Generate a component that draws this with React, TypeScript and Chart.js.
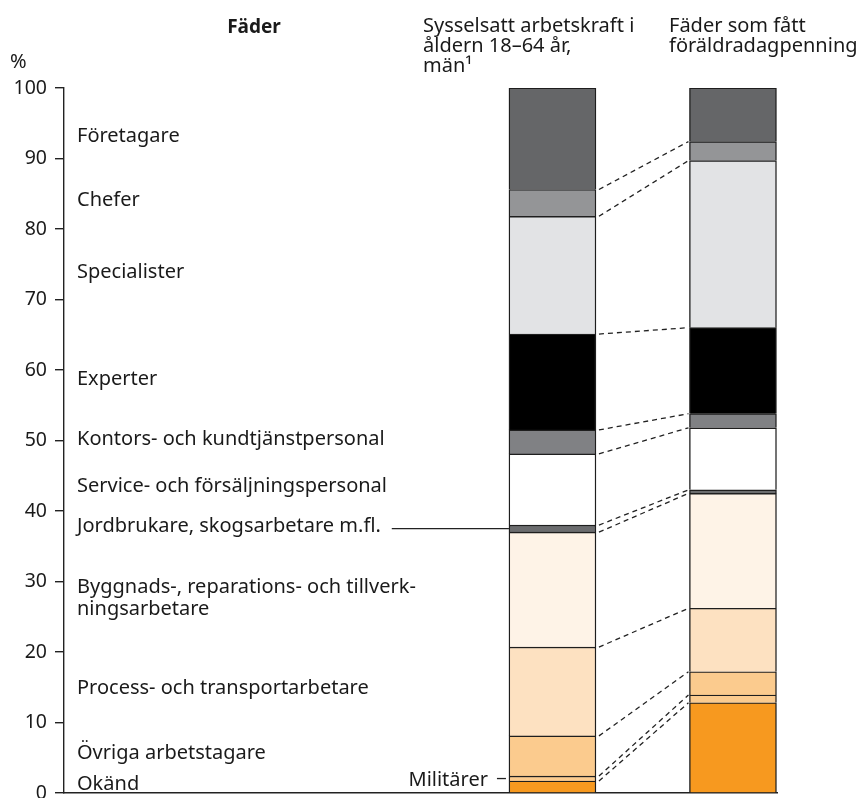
import React, { useEffect, useRef } from "react";
import { Chart, registerables } from "chart.js";

Chart.register(...registerables);

const FONT = "'Noto Sans', sans-serif";
const TEXT = "#1a1a1a";

const pageTitle = "Fäder";
const unitLabel = "%";
const columnTitles: string[][] = [
  ["Sysselsatt arbetskraft i", "åldern 18–64 år,", "män¹"],
  ["Fäder som fått", "föräldradagpenning"],
];

// bottom to top
const groups: string[] = [
  "Okänd",
  "Militärer",
  "Övriga arbetstagare",
  "Process- och transportarbetare",
  "Byggnads-, reparations- och tillverk-\nningsarbetare",
  "Jordbrukare, skogsarbetare m.fl.",
  "Service- och försäljningspersonal",
  "Kontors- och kundtjänstpersonal",
  "Experter",
  "Specialister",
  "Chefer",
  "Företagare",
];
const employedMen: number[] = [1.7, 0.7, 5.7, 12.6, 16.3, 1.0, 10.1, 3.4, 13.6, 16.7, 3.8, 14.4];
const fathersWithBenefit: number[] = [12.8, 1.1, 3.3, 9.0, 16.3, 0.5, 8.8, 2.0, 12.2, 23.7, 2.7, 7.6];
const groupColors: string[] = [
  "#f7991f",
  "#fbcb8e",
  "#fbcb8e",
  "#fde1c1",
  "#fef3e7",
  "#6b6c6e",
  "#ffffff",
  "#808184",
  "#000000",
  "#e2e3e5",
  "#949597",
  "#656668",
];
const yMin = 0;
const yMax = 100;
const yStep = 10;

function cumulative(arr: number[]): number[] {
  const out = [0];
  arr.forEach((v) => out.push(out[out.length - 1] + v));
  return out;
}

const overlayPlugin = {
  id: "overlay",
  afterDatasetsDraw(chart: any) {
    const ctx = chart.ctx;
    const y = chart.scales.y;
    const metaFirst = chart.getDatasetMeta(0);
    const b1 = metaFirst.data[0];
    const b2 = metaFirst.data[1];
    const b1Left = b1.x - b1.width / 2;
    const b1Right = b1.x + b1.width / 2;
    const b2Left = b2.x - b2.width / 2;
    const c1 = cumulative(employedMen);
    const c2 = cumulative(fathersWithBenefit);
    const zeroPx = y.getPixelForValue(0);

    ctx.save();
    // dashed connectors
    ctx.strokeStyle = "#222";
    ctx.lineWidth = 1.3;
    ctx.setLineDash([5, 4]);
    for (let k = 1; k < c1.length - 1; k++) {
      ctx.beginPath();
      ctx.moveTo(b1Right + 3, y.getPixelForValue(c1[k]));
      ctx.lineTo(b2Left - 1, y.getPixelForValue(c2[k]));
      ctx.stroke();
    }
    ctx.setLineDash([]);

    // group labels at the midpoints of the first bar's segments
    ctx.fillStyle = TEXT;
    ctx.font = `20px ${FONT}`;
    ctx.textBaseline = "alphabetic";
    const labelX = chart.chartArea.left + 13;
    groups.forEach((g, i) => {
      const mid = (c1[i] + c1[i + 1]) / 2;
      const py = y.getPixelForValue(mid);
      const lines = g.split("\n");
      if (g === "Militärer") {
        ctx.textAlign = "right";
        ctx.fillText(g, b1Left - 21, py + 7.5);
        ctx.lineWidth = 1.3;
        ctx.strokeStyle = "#222";
        ctx.beginPath();
        ctx.moveTo(b1Left - 12, py);
        ctx.lineTo(b1Left - 3, py);
        ctx.stroke();
        return;
      }
      ctx.textAlign = "left";
      const lh = 22.5;
      const base = Math.min(py + 3, zeroPx - 1.5);
      lines.forEach((ln, j) => ctx.fillText(ln, labelX, base + j * lh));
      if (g.startsWith("Jordbrukare")) {
        const w = ctx.measureText(lines[0]).width;
        ctx.lineWidth = 1.3;
        ctx.strokeStyle = "#222";
        ctx.beginPath();
        ctx.moveTo(labelX + w + 11, py);
        ctx.lineTo(b1Left, py);
        ctx.stroke();
      }
    });

    // headers
    ctx.textAlign = "left";
    ctx.textBaseline = "alphabetic";
    ctx.font = `20px ${FONT}`;
    const lefts = [423, 669];
    columnTitles.forEach((lines, i) => {
      lines.forEach((ln, j) => ctx.fillText(ln, lefts[i], 32 + j * 20));
    });
    ctx.fillText(unitLabel, 10, 68);
    ctx.font = `bold 19px ${FONT}`;
    ctx.textAlign = "center";
    ctx.fillText(pageTitle, 254, 33);
    ctx.restore();
  },
};

export default function App() {
  const ref = useRef<HTMLCanvasElement | null>(null);
  useEffect(() => {
    if (!ref.current) return;
    const datasets = groups.map((g, i) => ({
      label: g,
      data: [
        { x: 0, y: employedMen[i] },
        { x: 1, y: fathersWithBenefit[i] },
      ],
      backgroundColor: groupColors[i],
      borderColor: "#1e1e1e",
      borderWidth: 1.4,
      barThickness: 87,
    }));
    const chart = new Chart(ref.current, {
      type: "bar",
      data: { datasets },
      options: {
        animation: false,
        responsive: false,
        maintainAspectRatio: false,
        layout: { padding: { left: 0, right: 85, top: 88, bottom: 0 } },
        plugins: { legend: { display: false }, tooltip: { enabled: false } },
        scales: {
          x: {
            type: "linear",
            stacked: true,
            offset: false,
            min: -2.706,
            max: 1.244,
            ticks: { display: false },
            grid: { display: false },
            border: { display: true, color: "#222", width: 1.4 },
            afterFit: (s: any) => {
              s.height = 5;
              s.paddingLeft = 0;
              s.paddingRight = 0;
            },
          },
          y: {
            stacked: true,
            min: yMin,
            max: yMax,
            ticks: {
              stepSize: yStep,
              color: TEXT,
              font: { family: FONT, size: 19.5 },
              padding: 8,
            },
            grid: {
              drawOnChartArea: false,
              drawTicks: true,
              tickLength: 9,
              color: "#222",
              lineWidth: 1.4,
            },
            border: { display: true, color: "#222", width: 1.4 },
            afterFit: (s: any) => {
              s.width = 64;
              s.paddingTop = 0;
              s.paddingBottom = 0;
            },
          },
        },
      },
      plugins: [overlayPlugin],
    } as any);
    return () => chart.destroy();
  }, []);
  return (
    <div style={{ position: "fixed", left: 0, top: 0, width: 862, height: 798, background: "#fff" }}>
      <canvas ref={ref} width={862} height={798} style={{ display: "block" }} />
    </div>
  );
}
